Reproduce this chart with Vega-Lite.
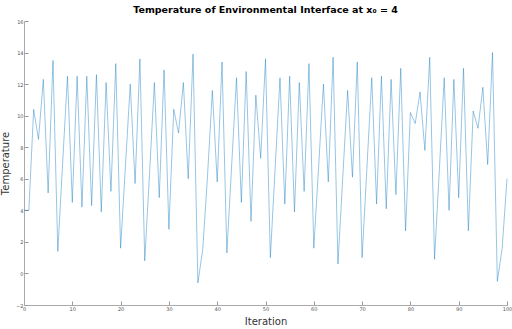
{
  "$schema": "https://vega.github.io/schema/vega-lite/v6.json",
  "width": 483,
  "height": 284,
  "autosize": {"type": "none"},
  "padding": {"left": 24, "top": 21, "right": 5, "bottom": 24},
  "background": "white",
  "title": {
    "text": "Temperature of Environmental Interface at x₀ = 4",
    "font": "DejaVu Sans",
    "fontSize": 9.5,
    "fontWeight": "bold",
    "color": "#000000",
    "anchor": "middle",
    "offset": 5
  },
  "config": {
    "view": {"stroke": null},
    "font": "DejaVu Sans"
  },
  "data": {
    "values": [
      {"iteration": 0, "temperature": 4.0},
      {"iteration": 1, "temperature": 4.0},
      {"iteration": 2, "temperature": 10.4},
      {"iteration": 3, "temperature": 8.5},
      {"iteration": 4, "temperature": 12.3},
      {"iteration": 5, "temperature": 5.1},
      {"iteration": 6, "temperature": 13.5},
      {"iteration": 7, "temperature": 1.4},
      {"iteration": 8, "temperature": 7.0},
      {"iteration": 9, "temperature": 12.5},
      {"iteration": 10, "temperature": 4.5},
      {"iteration": 11, "temperature": 12.5},
      {"iteration": 12, "temperature": 4.2},
      {"iteration": 13, "temperature": 12.5},
      {"iteration": 14, "temperature": 4.3},
      {"iteration": 15, "temperature": 12.6},
      {"iteration": 16, "temperature": 3.9},
      {"iteration": 17, "temperature": 12.1},
      {"iteration": 18, "temperature": 5.2},
      {"iteration": 19, "temperature": 13.3},
      {"iteration": 20, "temperature": 1.6},
      {"iteration": 21, "temperature": 6.8},
      {"iteration": 22, "temperature": 12.0},
      {"iteration": 23, "temperature": 5.7},
      {"iteration": 24, "temperature": 13.6},
      {"iteration": 25, "temperature": 0.8},
      {"iteration": 26, "temperature": 6.4},
      {"iteration": 27, "temperature": 12.1},
      {"iteration": 28, "temperature": 4.8},
      {"iteration": 29, "temperature": 12.9},
      {"iteration": 30, "temperature": 2.8},
      {"iteration": 31, "temperature": 10.4},
      {"iteration": 32, "temperature": 8.9},
      {"iteration": 33, "temperature": 12.1},
      {"iteration": 34, "temperature": 6.0},
      {"iteration": 35, "temperature": 13.9},
      {"iteration": 36, "temperature": -0.6},
      {"iteration": 37, "temperature": 1.5},
      {"iteration": 38, "temperature": 6.2},
      {"iteration": 39, "temperature": 11.6},
      {"iteration": 40, "temperature": 5.8},
      {"iteration": 41, "temperature": 13.4},
      {"iteration": 42, "temperature": 1.3},
      {"iteration": 43, "temperature": 6.9},
      {"iteration": 44, "temperature": 12.4},
      {"iteration": 45, "temperature": 4.5},
      {"iteration": 46, "temperature": 12.8},
      {"iteration": 47, "temperature": 3.3},
      {"iteration": 48, "temperature": 11.3},
      {"iteration": 49, "temperature": 7.3},
      {"iteration": 50, "temperature": 13.6},
      {"iteration": 51, "temperature": 1.0},
      {"iteration": 52, "temperature": 6.7},
      {"iteration": 53, "temperature": 12.4},
      {"iteration": 54, "temperature": 4.4},
      {"iteration": 55, "temperature": 12.5},
      {"iteration": 56, "temperature": 3.9},
      {"iteration": 57, "temperature": 12.1},
      {"iteration": 58, "temperature": 5.2},
      {"iteration": 59, "temperature": 13.3},
      {"iteration": 60, "temperature": 1.6},
      {"iteration": 61, "temperature": 6.8},
      {"iteration": 62, "temperature": 12.0},
      {"iteration": 63, "temperature": 5.8},
      {"iteration": 64, "temperature": 13.7},
      {"iteration": 65, "temperature": 0.6},
      {"iteration": 66, "temperature": 6.1},
      {"iteration": 67, "temperature": 11.6},
      {"iteration": 68, "temperature": 6.1},
      {"iteration": 69, "temperature": 13.4},
      {"iteration": 70, "temperature": 1.0},
      {"iteration": 71, "temperature": 6.7},
      {"iteration": 72, "temperature": 12.4},
      {"iteration": 73, "temperature": 4.4},
      {"iteration": 74, "temperature": 12.5},
      {"iteration": 75, "temperature": 4.1},
      {"iteration": 76, "temperature": 12.3},
      {"iteration": 77, "temperature": 5.0},
      {"iteration": 78, "temperature": 13.0},
      {"iteration": 79, "temperature": 2.7},
      {"iteration": 80, "temperature": 10.2},
      {"iteration": 81, "temperature": 9.5},
      {"iteration": 82, "temperature": 11.5},
      {"iteration": 83, "temperature": 7.8},
      {"iteration": 84, "temperature": 13.7},
      {"iteration": 85, "temperature": 0.9},
      {"iteration": 86, "temperature": 6.6},
      {"iteration": 87, "temperature": 12.4},
      {"iteration": 88, "temperature": 4.0},
      {"iteration": 89, "temperature": 12.3},
      {"iteration": 90, "temperature": 4.8},
      {"iteration": 91, "temperature": 13.0},
      {"iteration": 92, "temperature": 2.7},
      {"iteration": 93, "temperature": 10.3},
      {"iteration": 94, "temperature": 9.2},
      {"iteration": 95, "temperature": 11.8},
      {"iteration": 96, "temperature": 6.9},
      {"iteration": 97, "temperature": 14.0},
      {"iteration": 98, "temperature": -0.5},
      {"iteration": 99, "temperature": 1.6},
      {"iteration": 100, "temperature": 6.0}
    ]
  },
  "mark": {"type": "line", "color": "#0072BD", "strokeWidth": 0.55, "opacity": 0.75},
  "encoding": {
    "x": {
      "field": "iteration",
      "type": "quantitative",
      "scale": {"domain": [0, 100], "nice": false},
      "axis": {
        "title": "Iteration",
        "titleFontSize": 10,
        "titleFontWeight": "normal",
        "titleColor": "#333333",
        "titlePadding": 5,
        "values": [0, 10, 20, 30, 40, 50, 60, 70, 80, 90, 100],
        "labelFontSize": 5,
        "labelColor": "#555555",
        "labelPadding": 5,
        "labelFlush": false,
        "labelOverlap": false,
        "tickSize": -4,
        "tickColor": "#999999",
        "domainColor": "#aaaaaa",
        "grid": false
      }
    },
    "y": {
      "field": "temperature",
      "type": "quantitative",
      "scale": {"domain": [-2, 16], "nice": false, "zero": false},
      "axis": {
        "title": "Temperature",
        "titleFontSize": 10,
        "titleFontWeight": "normal",
        "titleColor": "#333333",
        "titlePadding": 5,
        "values": [-2, 0, 2, 4, 6, 8, 10, 12, 14, 16],
        "labelFontSize": 5,
        "labelColor": "#555555",
        "labelPadding": 5,
        "labelFlush": false,
        "labelOverlap": false,
        "tickSize": -4,
        "tickColor": "#999999",
        "domainColor": "#aaaaaa",
        "grid": false
      }
    }
  }
}
